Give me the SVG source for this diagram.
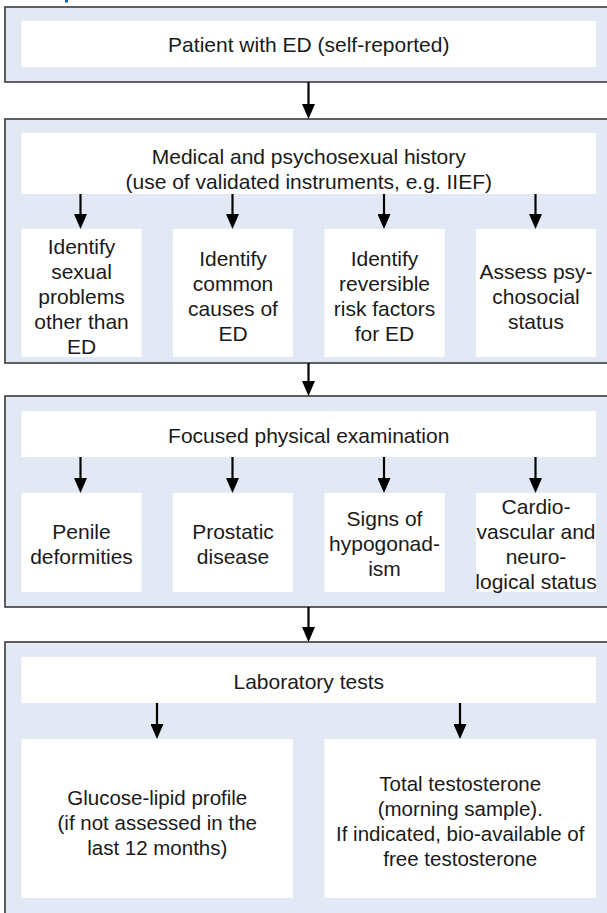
<svg xmlns="http://www.w3.org/2000/svg" width="607" height="913" viewBox="0 0 607 913">
<style>
.outer{fill:#e2e9f4;stroke:#3a3a3a;stroke-width:1.6}
.inner{fill:#ffffff}
.t{font-family:"Liberation Sans",Arial,sans-serif;font-size:21px;fill:#1a1a1a;text-anchor:middle;dominant-baseline:central}
.t2{font-size:20.5px}
.arr{stroke:#000;stroke-width:2.2;fill:none;marker-end:url(#ah)}
</style>
<defs>
<marker id="ah" viewBox="0 0 15 13" markerWidth="15" markerHeight="13" refX="11" refY="6.5" orient="auto" markerUnits="userSpaceOnUse">
<path d="M0,0 L15,6.5 L0,13 z" fill="#000"/>
</marker>
</defs>
<rect x="65" y="0" width="3" height="2.5" fill="#1a5eab"/>

<g id="box1">
<rect class="outer" x="5" y="7" width="620" height="75"/>
<rect class="inner" x="21.5" y="21" width="574.5" height="46"/>
<text class="t" x="308.75" y="44">Patient with ED (self-reported)</text>
</g>

<g id="box2">
<rect class="outer" x="5" y="119" width="620" height="244"/>
<g id="history">
<rect class="inner" x="21.5" y="133" width="574.5" height="61"/>
<text class="t" x="308.75" y="156">Medical and psychosexual history</text>
<text class="t" x="308.75" y="181.5">(use of validated instruments, e.g. IIEF)</text>
</g>
<g id="h1">
<rect class="inner" x="21.5" y="229" width="120" height="128"/>
<text class="t" x="81.5" y="246">Identify</text>
<text class="t" x="81.5" y="271">sexual</text>
<text class="t" x="81.5" y="296">problems</text>
<text class="t" x="81.5" y="321">other than</text>
<text class="t" x="81.5" y="346">ED</text>
</g>
<g id="h2">
<rect class="inner" x="173" y="229" width="120" height="128"/>
<text class="t" x="233" y="258.5">Identify</text>
<text class="t" x="233" y="283.5">common</text>
<text class="t" x="233" y="308.5">causes of</text>
<text class="t" x="233" y="333.5">ED</text>
</g>
<g id="h3">
<rect class="inner" x="324.5" y="229" width="120" height="128"/>
<text class="t" x="384.5" y="258.5">Identify</text>
<text class="t" x="384.5" y="283.5">reversible</text>
<text class="t" x="384.5" y="308.5">risk factors</text>
<text class="t" x="384.5" y="333.5">for ED</text>
</g>
<g id="h4">
<rect class="inner" x="476" y="229" width="120" height="128"/>
<text class="t" x="536" y="271">Assess psy-</text>
<text class="t" x="536" y="296">chosocial</text>
<text class="t" x="536" y="321">status</text>
</g>
</g>

<g id="box3">
<rect class="outer" x="5" y="396" width="620" height="211"/>
<g id="exam">
<rect class="inner" x="21.5" y="411" width="574.5" height="46"/>
<text class="t" x="308.75" y="435">Focused physical examination</text>
</g>
<g id="e1">
<rect class="inner" x="21.5" y="493" width="120" height="99"/>
<text class="t" x="81.5" y="531">Penile</text>
<text class="t" x="81.5" y="556">deformities</text>
</g>
<g id="e2">
<rect class="inner" x="173" y="493" width="120" height="99"/>
<text class="t" x="233" y="531">Prostatic</text>
<text class="t" x="233" y="556">disease</text>
</g>
<g id="e3">
<rect class="inner" x="324.5" y="493" width="120" height="99"/>
<text class="t" x="384.5" y="518.5">Signs of</text>
<text class="t" x="384.5" y="543.5">hypogonad-</text>
<text class="t" x="384.5" y="568.5">ism</text>
</g>
<g id="e4">
<rect class="inner" x="476" y="493" width="120" height="99"/>
<text class="t" x="536" y="506">Cardio-</text>
<text class="t" x="536" y="531">vascular and</text>
<text class="t" x="536" y="556">neuro-</text>
<text class="t" x="536" y="581">logical status</text>
</g>
</g>

<g id="box4">
<rect class="outer" x="5" y="642" width="620" height="290"/>
<g id="lab">
<rect class="inner" x="21.5" y="657" width="574.5" height="46"/>
<text class="t" x="308.75" y="681">Laboratory tests</text>
</g>
<g id="l1">
<rect class="inner" x="21.5" y="739" width="271.5" height="159"/>
<text class="t t2" x="157.25" y="797">Glucose-lipid profile</text>
<text class="t t2" x="157.25" y="822">(if not assessed in the</text>
<text class="t t2" x="157.25" y="847">last 12 months)</text>
</g>
<g id="l2">
<rect class="inner" x="324.5" y="739" width="271.5" height="159"/>
<text class="t t2" x="460.25" y="783">Total testosterone</text>
<text class="t t2" x="460.25" y="808">(morning sample).</text>
<text class="t t2" x="460.25" y="833">If indicated, bio-available of</text>
<text class="t t2" x="460.25" y="858">free testosterone</text>
</g>
</g>

<g id="connectors">
<line class="arr" x1="308.5" y1="82" x2="308.5" y2="115"/>
<line class="arr" x1="308.5" y1="363" x2="308.5" y2="392"/>
<line class="arr" x1="308.5" y1="607" x2="308.5" y2="638"/>
<line class="arr" x1="80.5" y1="194" x2="80.5" y2="225"/>
<line class="arr" x1="232.5" y1="194" x2="232.5" y2="225"/>
<line class="arr" x1="384" y1="194" x2="384" y2="225"/>
<line class="arr" x1="535.5" y1="194" x2="535.5" y2="225"/>
<line class="arr" x1="80.5" y1="457" x2="80.5" y2="489"/>
<line class="arr" x1="232.5" y1="457" x2="232.5" y2="489"/>
<line class="arr" x1="384" y1="457" x2="384" y2="489"/>
<line class="arr" x1="535.5" y1="457" x2="535.5" y2="489"/>
<line class="arr" x1="157" y1="703" x2="157" y2="735"/>
<line class="arr" x1="460" y1="703" x2="460" y2="735"/>
</g>
</svg>
